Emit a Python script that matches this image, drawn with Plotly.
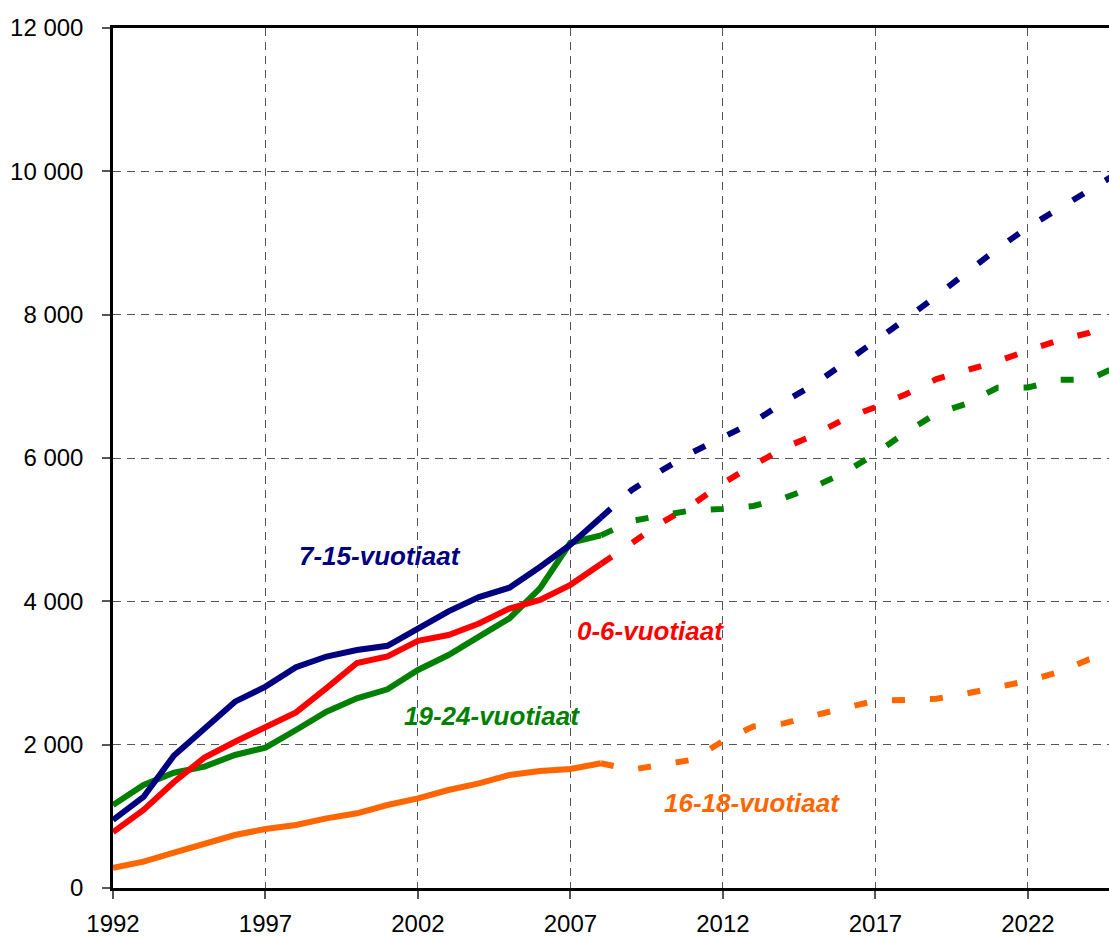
import plotly.graph_objects as go

# ---- data ----
years_actual = list(range(1992, 2009))
years_proj = list(range(2008, 2026))

age_0_6_actual = [780, 1090, 1480, 1820, 2040, 2240, 2450, 2790, 3140, 3230, 3450, 3530, 3690, 3900, 4020, 4230, 4520]
age_7_15_actual = [950, 1270, 1850, 2230, 2600, 2810, 3080, 3230, 3320, 3380, 3620, 3860, 4060, 4190, 4480, 4790, 5170]
age_16_18_actual = [280, 367, 493, 609, 739, 823, 879, 972, 1042, 1158, 1251, 1367, 1460, 1577, 1632, 1660, 1740]
age_19_24_actual = [1158, 1437, 1609, 1693, 1856, 1958, 2205, 2460, 2647, 2772, 3042, 3251, 3507, 3763, 4181, 4818, 4920]

age_0_6_proj = [4520, 4800, 5100, 5350, 5650, 5900, 6140, 6320, 6550, 6710, 6890, 7100, 7220, 7350, 7500, 7640, 7745, 7930]
age_7_15_proj = [5170, 5550, 5830, 6080, 6290, 6500, 6780, 7030, 7330, 7630, 7940, 8260, 8600, 8920, 9220, 9480, 9740, 9990]
age_16_18_proj = [1740, 1650, 1720, 1790, 2050, 2255, 2297, 2410, 2516, 2610, 2615, 2640, 2715, 2800, 2890, 3010, 3190, 3300]
age_19_24_proj = [4920, 5120, 5200, 5270, 5290, 5330, 5440, 5600, 5800, 6060, 6360, 6620, 6760, 6980, 6985, 7090, 7095, 7290]

series = [
    ("0-6-vuotiaat", age_0_6_actual, age_0_6_proj, "#FF0000"),
    ("7-15-vuotiaat", age_7_15_actual, age_7_15_proj, "#000080"),
    ("16-18-vuotiaat", age_16_18_actual, age_16_18_proj, "#FF6600"),
    ("19-24-vuotiaat", age_19_24_actual, age_19_24_proj, "#008000"),
]

labels = [
    ("7-15-vuotiaat", 2000.76, 4632, "#000080"),
    ("0-6-vuotiaat", 2009.62, 3586, "#FF0000"),
    ("19-24-vuotiaat", 2004.44, 2404, "#008000"),
    ("16-18-vuotiaat", 2012.95, 1193, "#FF6600"),
]

x_ticks = [1992, 1997, 2002, 2007, 2012, 2017, 2022]
y_ticks = [0, 2000, 4000, 6000, 8000, 10000, 12000]
y_tick_text = ["0", "2 000", "4 000", "6 000", "8 000", "10 000", "12 000"]

fig = go.Figure()

# projections (dashed)
for name, act, proj, col in series:
    fig.add_trace(go.Scatter(x=years_proj, y=proj, mode="lines", name=name + " ennuste",
                             line=dict(color=col, width=6, dash="13px,25px"),
                             showlegend=False, hoverinfo="skip"))
# actual values (solid)
for i in [2, 3, 0, 1]:
    name, act, proj, col = series[i]
    fig.add_trace(go.Scatter(x=years_actual, y=act, mode="lines", name=name,
                             line=dict(color=col, width=6),
                             showlegend=False))

for text, x, y, col in labels:
    fig.add_annotation(x=x, y=y, text="<b><i>" + text + "</i></b>", showarrow=False,
                       xanchor="center", yanchor="middle",
                       font=dict(family="Arial, Liberation Sans, sans-serif", size=26, color=col))

fig.update_layout(
    width=1109, height=937,
    margin=dict(l=113, r=0, t=28, b=49),
    plot_bgcolor="white", paper_bgcolor="white",
    font=dict(family="Arial, Liberation Sans, sans-serif", size=24, color="black"),
    showlegend=False,
)
fig.update_xaxes(
    range=[1992, 2024.66], tickvals=x_ticks, ticktext=[str(v) for v in x_ticks],
    showgrid=True, gridcolor="#555555", gridwidth=1.2, griddash="8px,6px",
    showline=True, linecolor="black", linewidth=2.5, mirror=True,
    ticks="outside", ticklen=8, tickcolor="#555555", tickwidth=1.5,
    ticklabelstandoff=4, zeroline=False, automargin=False,
)
fig.update_yaxes(
    range=[0, 12000], tickvals=y_ticks, ticktext=y_tick_text,
    showgrid=True, gridcolor="#555555", gridwidth=1.2, griddash="8px,6px",
    showline=True, linecolor="black", linewidth=2.5,
    ticks="outside", ticklen=8, tickcolor="#555555", tickwidth=1.5,
    ticklabelstandoff=14, zeroline=False, automargin=False,
)

fig.write_html("out.html", config={"displayModeBar": False},
               post_script="document.body.style.margin='0';document.body.style.overflow='hidden';")
